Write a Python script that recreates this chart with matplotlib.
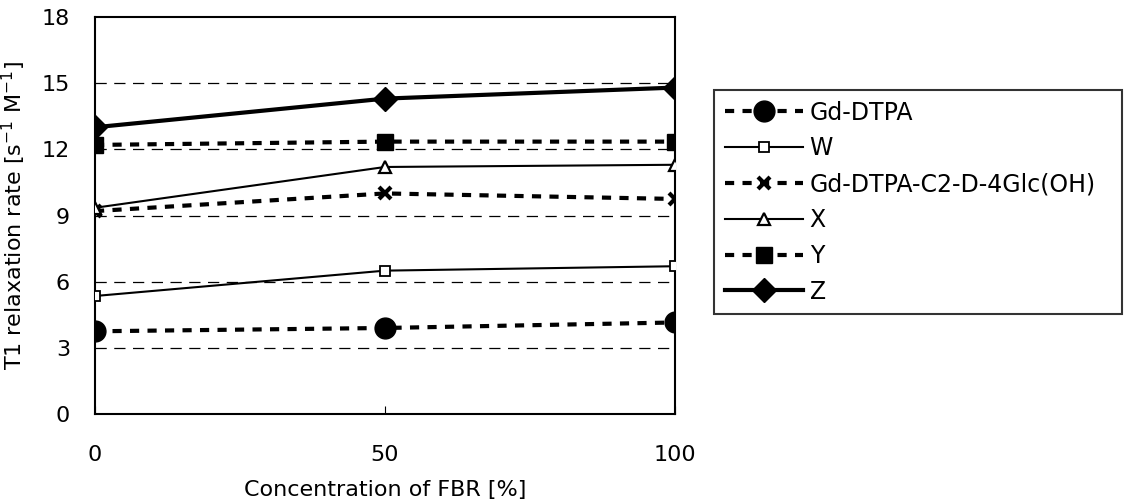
import matplotlib
matplotlib.use("Agg")
import matplotlib.pyplot as plt

fbr = [0, 50, 100]
gd_dtpa = [3.75, 3.9, 4.15]
w_vals = [5.35, 6.5, 6.7]
gd_c2 = [9.2, 10.0, 9.75]
x_vals = [9.35, 11.2, 11.3]
y_vals = [12.2, 12.35, 12.35]
z_vals = [13.0, 14.3, 14.8]

labels = ["Gd-DTPA", "W", "Gd-DTPA-C2-D-4Glc(OH)", "X", "Y", "Z"]
x_ticks = [0, 50, 100]
y_ticks = [0, 3, 6, 9, 12, 15, 18]
grid_levels = [3, 6, 9, 12, 15]

plt.rcParams["font.family"] = ["DejaVu Sans"]

fig = plt.figure(figsize=(11.24, 5.04), dpi=100)
ax = fig.add_axes([95 / 1124, 1 - 414 / 504, 580 / 1124, 397 / 504])

for g in grid_levels:
    ax.axhline(g, color="black", lw=0.9, ls=(0, (9, 6)), zorder=1)

dash = (0, (2.2, 2.0))
ax.plot(fbr, gd_dtpa, color="black", lw=3, ls=dash, marker="o", ms=15,
        label=labels[0], zorder=3)
ax.plot(fbr, w_vals, color="black", lw=1.5, marker="s", ms=7, mfc="white",
        mew=1.3, label=labels[1], zorder=3)
ax.plot(fbr, gd_c2, color="black", lw=3, ls=dash, marker="x", ms=9, mew=3,
        label=labels[2], zorder=3)
ax.plot(fbr, x_vals, color="black", lw=1.5, marker="^", ms=9, mfc="white",
        mew=1.6, label=labels[3], zorder=3)
ax.plot(fbr, y_vals, color="black", lw=3, ls=dash, marker="s", ms=12,
        label=labels[4], zorder=3)
ax.plot(fbr, z_vals, color="black", lw=3, marker="D", ms=12,
        label=labels[5], zorder=3)

ax.set_xlim(0, 100)
ax.set_ylim(0, 18)
ax.set_xticks(x_ticks)
ax.set_yticks(y_ticks)
ax.tick_params(axis="x", direction="in", length=6, pad=22, labelsize=16)
ax.tick_params(axis="y", length=0, pad=18, labelsize=16)
for s in ax.spines.values():
    s.set_linewidth(1.5)
    s.set_color("black")

ax.set_xlabel("Concentration of FBR [%]", fontsize=16, labelpad=11)
ax.set_ylabel(r"T1 relaxation rate [s$^{-1}$ M$^{-1}$]", fontsize=16, labelpad=10)

leg = ax.legend(loc="upper left",
                bbox_to_anchor=(714 / 1124, 1 - 312 / 504, 408 / 1124, 222 / 504),
                bbox_transform=fig.transFigure, mode="expand", frameon=True,
                fancybox=False, fontsize=17, handlelength=3.3, handletextpad=0.3,
                labelspacing=0.5, borderpad=0.45, borderaxespad=0)
leg.get_frame().set_edgecolor("black")
leg.get_frame().set_linewidth(1.5)

fig.savefig("out.png", dpi=100)
